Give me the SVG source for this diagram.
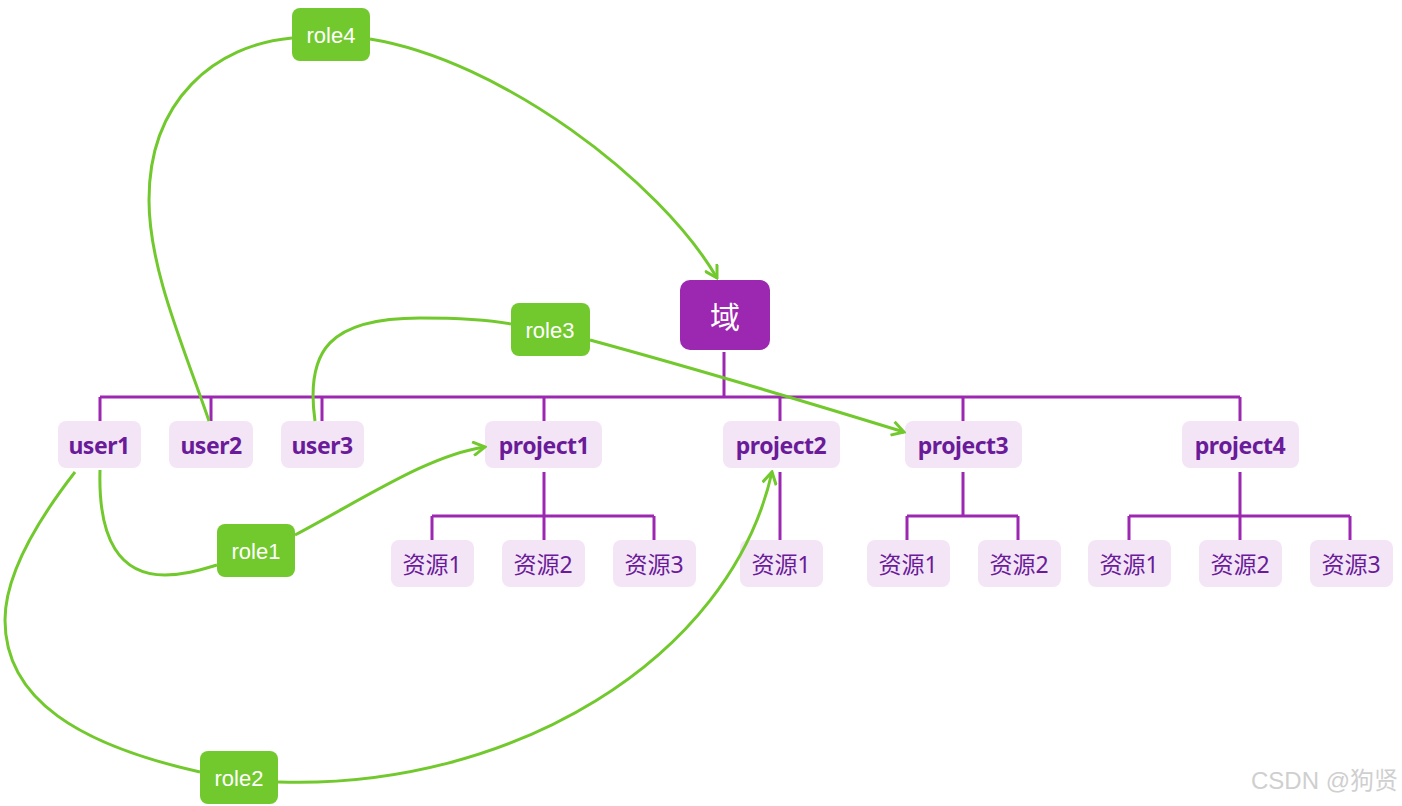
<svg xmlns="http://www.w3.org/2000/svg" width="1402" height="806" viewBox="0 0 1402 806">
<style>
.tree{stroke:#9C27B0;stroke-width:3;fill:none}
.node rect{fill:#F3E5F5}
.lbl{font-family:"Noto Sans","Noto Sans CJK SC",sans-serif;font-size:23px;font-weight:bold;fill:#6A1B9A;text-anchor:middle;dominant-baseline:central;letter-spacing:-0.5px}
.res{font-family:"Noto Sans","Noto Sans CJK SC",sans-serif;font-size:23px;fill:#6A1B9A;text-anchor:middle;dominant-baseline:central}
.role rect{fill:#72C92D}
.rt{font-family:"Liberation Sans",Arial,sans-serif;font-size:22px;fill:#fff;text-anchor:middle;dominant-baseline:central}
.link{stroke:#72C92D;stroke-width:3;fill:none}
</style>
<defs>
<marker id="arr" markerUnits="userSpaceOnUse" markerWidth="16" markerHeight="16" viewBox="0 0 16 16" refX="14" refY="8" orient="auto">
<path d="M2,1 L14,8 L2,15" fill="none" stroke="#72C92D" stroke-width="3"/>
</marker>
</defs>
<rect width="1402" height="806" fill="#fff"/>
<g id="tree-lines">
<path class="tree" d="M724 352 V397 M100 397 H1240 M100 397 V421 M211 397 V421 M322 397 V421 M544 397 V421 M780 397 V421 M963 397 V421 M1240 397 V421"/>
<path class="tree" d="M544 472 V540 M432 516 H654 M432 516 V540 M654 516 V540"/>
<path class="tree" d="M780 472 V540"/>
<path class="tree" d="M963 472 V516 M907 516 H1018 M907 516 V540 M1018 516 V540"/>
<path class="tree" d="M1240 472 V540 M1129 516 H1350 M1129 516 V540 M1350 516 V540"/>
</g>
<g id="domain"><rect x="680" y="280" width="90" height="70" rx="10" fill="#9C27B0"/><text x="725" y="315" font-family="Noto Sans CJK SC,sans-serif" font-size="30" fill="#fff" text-anchor="middle" dominant-baseline="central">域</text></g>
<g id="user1" class="node"><rect x="58" y="421" width="83" height="47" rx="8"/><text class="lbl" x="99" y="445">user1</text></g>
<g id="user2" class="node"><rect x="169" y="421" width="84" height="47" rx="8"/><text class="lbl" x="211" y="445">user2</text></g>
<g id="user3" class="node"><rect x="281" y="421" width="83" height="47" rx="8"/><text class="lbl" x="322" y="445">user3</text></g>
<g id="project1" class="node"><rect x="485" y="421" width="117" height="47" rx="8"/><text class="lbl" x="544" y="445">project1</text></g>
<g id="project2" class="node"><rect x="723" y="421" width="117" height="47" rx="8"/><text class="lbl" x="781" y="445">project2</text></g>
<g id="project3" class="node"><rect x="905" y="421" width="117" height="47" rx="8"/><text class="lbl" x="963" y="445">project3</text></g>
<g id="project4" class="node"><rect x="1182" y="421" width="117" height="47" rx="8"/><text class="lbl" x="1240" y="445">project4</text></g>
<g id="p1-res1" class="node"><rect x="391" y="540" width="83" height="47" rx="8"/><text class="res" x="432" y="564">资源1</text></g>
<g id="p1-res2" class="node"><rect x="502" y="540" width="83" height="47" rx="8"/><text class="res" x="543" y="564">资源2</text></g>
<g id="p1-res3" class="node"><rect x="613" y="540" width="83" height="47" rx="8"/><text class="res" x="654" y="564">资源3</text></g>
<g id="p2-res1" class="node"><rect x="740" y="540" width="83" height="47" rx="8"/><text class="res" x="781" y="564">资源1</text></g>
<g id="p3-res1" class="node"><rect x="867" y="540" width="83" height="47" rx="8"/><text class="res" x="908" y="564">资源1</text></g>
<g id="p3-res2" class="node"><rect x="978" y="540" width="83" height="47" rx="8"/><text class="res" x="1019" y="564">资源2</text></g>
<g id="p4-res1" class="node"><rect x="1088" y="540" width="83" height="47" rx="8"/><text class="res" x="1129" y="564">资源1</text></g>
<g id="p4-res2" class="node"><rect x="1199" y="540" width="83" height="47" rx="8"/><text class="res" x="1240" y="564">资源2</text></g>
<g id="p4-res3" class="node"><rect x="1310" y="540" width="83" height="47" rx="8"/><text class="res" x="1351" y="564">资源3</text></g>
<g id="connectors">
<path class="link" d="M209 421 C185 350 149 270 149 200 C149 100 215 45 292 38"/>
<path class="link" d="M370 39 C500 60 660 180 717 278" marker-end="url(#arr)"/>
<path class="link" d="M315 421 C305 350 330 318 420 318 C460 318 490 320 511 324"/>
<path class="link" d="M590 340 C700 370 800 400 904 432" marker-end="url(#arr)"/>
<path class="link" d="M100 470 C98 540 120 575 165 575 C185 575 200 570 217 565"/>
<path class="link" d="M295 535 C370 495 430 455 485 447" marker-end="url(#arr)"/>
<path class="link" d="M75 472 C30 530 5 580 5 620 C5 700 80 745 200 772"/>
<path class="link" d="M278 782 C510 790 730 660 772 472" marker-end="url(#arr)"/>
</g>
<g id="role4" class="role"><rect x="292" y="8" width="78" height="53" rx="8"/><text class="rt" x="331" y="35">role4</text></g>
<g id="role3" class="role"><rect x="511" y="303" width="79" height="53" rx="8"/><text class="rt" x="550" y="330">role3</text></g>
<g id="role1" class="role"><rect x="217" y="524" width="78" height="53" rx="8"/><text class="rt" x="256" y="551">role1</text></g>
<g id="role2" class="role"><rect x="200" y="751" width="78" height="53" rx="8"/><text class="rt" x="239" y="778">role2</text></g>
<text x="1398" y="780" font-family="Liberation Sans,Noto Sans CJK SC,sans-serif" font-size="24" fill="#cfcfcf" text-anchor="end" dominant-baseline="central">CSDN @狗贤</text>
</svg>
